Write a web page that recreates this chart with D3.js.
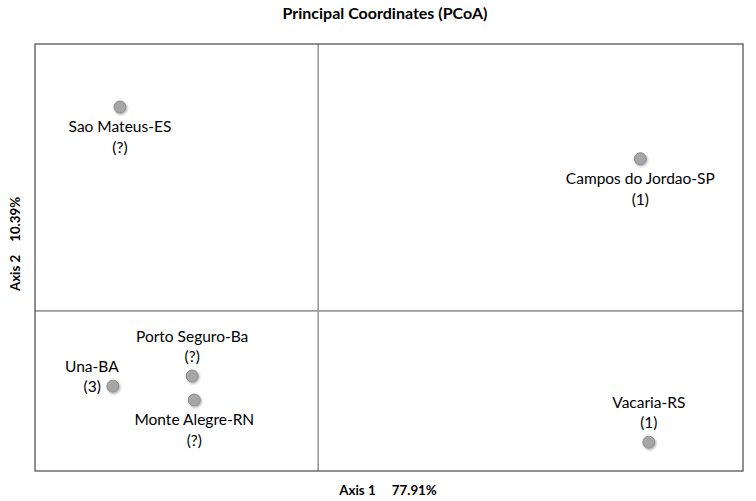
<!DOCTYPE html>
<html><head><meta charset="utf-8">
<script src="https://cdn.jsdelivr.net/npm/d3@7"></script>
<style>body{margin:0;background:#fff}svg{display:block}</style>
</head><body>
<svg id="c" width="756" height="501"></svg>
<script>
const sites = ["Sao Mateus-ES","Campos do Jordao-SP","Vacaria-RS","Una-BA","Porto Seguro-Ba","Monte Alegre-RN"];
const counts = ["(?)","(1)","(1)","(3)","(?)","(?)"];
const axis1 = [-0.280, 0.455, 0.467, -0.290, -0.178, -0.175];
const axis2 = [0.382, 0.285, -0.246, -0.141, -0.122, -0.167];
const placement = ["below","below","above","left","above","below"];
const title = "Principal Coordinates (PCoA)";
const xLabel = ["Axis 1", "77.91%"];
const yLabel = ["Axis 2", "10.39%"];

const svg = d3.select("#c");
const font = "Lato, 'Open Sans', sans-serif";
const x = d3.scaleLinear().domain([-0.4, 0.6]).range([35, 743]);
const y = d3.scaleLinear().domain([-0.3, 0.5]).range([471, 44]);

const defs = svg.append("defs");
const f = defs.append("filter").attr("id","sh").attr("x","-50%").attr("y","-50%").attr("width","200%").attr("height","200%");
f.append("feDropShadow").attr("dx",0.8).attr("dy",1.2).attr("stdDeviation",1.1).attr("flood-color","#000").attr("flood-opacity",0.35);

// zero lines
svg.append("line").attr("x1", x(0)).attr("x2", x(0)).attr("y1", y.range()[1]).attr("y2", y.range()[0])
  .attr("stroke","#999").attr("stroke-width",1.6);
svg.append("line").attr("x1", x.range()[0]).attr("x2", x.range()[1]).attr("y1", y(0)).attr("y2", y(0))
  .attr("stroke","#999").attr("stroke-width",1.6);
// frame
svg.append("rect").attr("x", x.range()[0]).attr("y", y.range()[1])
  .attr("width", x.range()[1]-x.range()[0]).attr("height", y.range()[0]-y.range()[1])
  .attr("fill","none").attr("stroke","#555").attr("stroke-width",1.3);

// title & axis labels
svg.append("text").attr("x",385).attr("y",19).attr("text-anchor","middle")
  .attr("font-family",font).attr("font-weight","bold").attr("font-size",16).attr("fill","#000").text(title);
svg.append("text").attr("x",388).attr("y",495).attr("text-anchor","middle")
  .attr("font-family",font).attr("font-weight","bold").attr("font-size",13.3).attr("fill","#000")
  .attr("xml:space","preserve").text(xLabel[0] + "     " + xLabel[1]);
svg.append("text").attr("transform","translate(20,244) rotate(-90)").attr("text-anchor","middle")
  .attr("font-family",font).attr("font-weight","bold").attr("font-size",13.3).attr("fill","#000")
  .attr("xml:space","preserve").text(yLabel[0] + "    " + yLabel[1]);

const data = sites.map((s,i)=>({name:s, count:counts[i], a1:axis1[i], a2:axis2[i], pl:placement[i]}));

svg.append("g").selectAll("circle").data(data).join("circle")
  .attr("cx", d=>x(d.a1)).attr("cy", d=>y(d.a2)).attr("r", 6)
  .attr("fill","#a6a6a6").attr("stroke","#8c8c8c").attr("stroke-width",1)
  .attr("filter","url(#sh)");

const lab = svg.append("g").attr("font-family",font).attr("font-size",15.5).attr("fill","#000");
data.forEach(d=>{
  const px = x(d.a1), py = y(d.a2);
  if (d.pl === "below") {
    lab.append("text").attr("x",px).attr("y",py+25).attr("text-anchor","middle").text(d.name);
    lab.append("text").attr("x",px).attr("y",py+46).attr("text-anchor","middle").text(d.count);
  } else if (d.pl === "above") {
    lab.append("text").attr("x",px).attr("y",py-34).attr("text-anchor","middle").text(d.name);
    lab.append("text").attr("x",px).attr("y",py-14).attr("text-anchor","middle").text(d.count);
  } else {
    lab.append("text").attr("x",px-21).attr("y",py-14).attr("text-anchor","middle").text(d.name);
    lab.append("text").attr("x",px-12).attr("y",py+6).attr("text-anchor","end").text(d.count);
  }
});
</script>
</body></html>
